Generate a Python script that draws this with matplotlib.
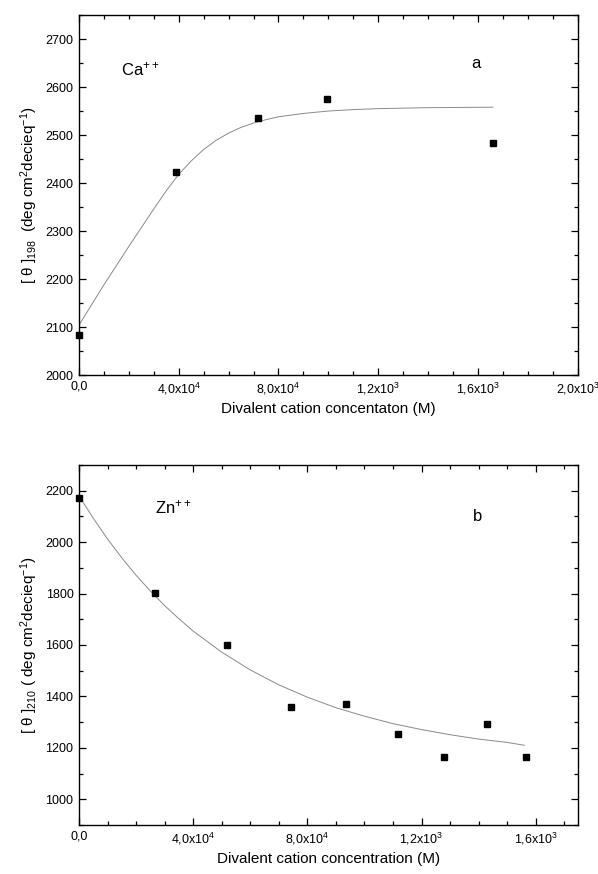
import matplotlib
matplotlib.use("Agg")
import matplotlib.pyplot as plt
from matplotlib.ticker import MultipleLocator, FixedLocator, FixedFormatter

plt.rcParams['font.family'] = ['Liberation Sans', 'DejaVu Sans']
plt.rcParams['mathtext.fontset'] = 'custom'
plt.rcParams['mathtext.rm'] = 'Liberation Sans'
plt.rcParams['mathtext.it'] = 'Liberation Sans:italic'
plt.rcParams['mathtext.bf'] = 'Liberation Sans:bold'

# ---- Panel a (Ca++) ----
ca_x = [0.0, 3.88e-4, 7.19e-4, 9.95e-4, 1.66e-3]
ca_y = [2083, 2422, 2535, 2576, 2483]
ca_fit_x = [0.0, 1e-4, 2e-4, 3e-4, 3.5e-4, 4e-4, 4.5e-4, 5e-4, 5.5e-4, 6e-4, 6.5e-4, 7e-4,
            7.5e-4, 8e-4, 9e-4, 1.0e-3, 1.1e-3, 1.2e-3, 1.4e-3, 1.66e-3]
ca_fit_y = [2104, 2188, 2268, 2346, 2384, 2418, 2446, 2470, 2489, 2504, 2516, 2525,
            2532, 2538, 2545, 2550, 2553, 2555, 2557, 2558]
a_xticks = [0.0, 4e-4, 8e-4, 1.2e-3, 1.6e-3, 2.0e-3]
a_xticklabels = ['0,0', '4,0x10$^{4}$', '8,0x10$^{4}$', '1,2x10$^{3}$', '1,6x10$^{3}$', '2,0x10$^{3}$']
a_yticks = [2000, 2100, 2200, 2300, 2400, 2500, 2600, 2700]

# ---- Panel b (Zn++) ----
zn_x = [0.0, 2.67e-4, 5.18e-4, 7.41e-4, 9.34e-4, 1.117e-3, 1.277e-3, 1.428e-3, 1.565e-3]
zn_y = [2172, 1803, 1601, 1357, 1370, 1253, 1165, 1294, 1165]
zn_fit_x = [0.0, 0.5e-4, 1e-4, 1.5e-4, 2e-4, 2.5e-4, 3e-4, 3.5e-4, 4e-4, 5e-4, 6e-4, 7e-4, 8e-4, 9e-4,
            1.0e-3, 1.1e-3, 1.2e-3, 1.3e-3, 1.4e-3, 1.5e-3, 1.56e-3]
zn_fit_y = [2180, 2093, 2012, 1939, 1871, 1810, 1753, 1702, 1654, 1572, 1503, 1445, 1397, 1356,
            1323, 1294, 1271, 1251, 1234, 1221, 1210]
b_xticks = [0.0, 4e-4, 8e-4, 1.2e-3, 1.6e-3]
b_xticklabels = ['0,0', '4,0x10$^{4}$', '8,0x10$^{4}$', '1,2x10$^{3}$', '1,6x10$^{3}$']
b_yticks = [1000, 1200, 1400, 1600, 1800, 2000, 2200]

fig = plt.figure(figsize=(5.98, 8.74), dpi=100)
ax1 = fig.add_axes([0.1321, 0.5709, 0.966 - 0.1321, 0.9828 - 0.5709])
ax2 = fig.add_axes([0.1321, 0.0561, 0.966 - 0.1321, 0.468 - 0.0561])

def style(ax):
    for s in ax.spines.values():
        s.set_linewidth(1.0)
    ax.tick_params(which='both', direction='in', top=True, right=True,
                   labelsize=9, width=0.9, pad=4)
    ax.tick_params(which='major', length=5)
    ax.tick_params(which='minor', length=3)

# Panel a
ax1.plot(ca_fit_x, ca_fit_y, color='#8a8a8a', lw=0.7)
ax1.plot(ca_x, ca_y, 's', color='black', ms=5, clip_on=False, zorder=5)
ax1.set_xlim(0, 2.0e-3)
ax1.set_ylim(2000, 2750)
ax1.xaxis.set_major_locator(FixedLocator(a_xticks))
ax1.xaxis.set_major_formatter(FixedFormatter(a_xticklabels))
ax1.xaxis.set_minor_locator(MultipleLocator(1e-4))
ax1.yaxis.set_major_locator(FixedLocator(a_yticks))
ax1.yaxis.set_minor_locator(MultipleLocator(50))
style(ax1)
ax1.set_xlabel('Divalent cation concentaton (M)', fontsize=11, labelpad=4)
ax1.set_ylabel('[ θ ]$_{\\mathregular{198}}$  (deg cm$^{2}$decieq$^{-1}$)', fontsize=11, labelpad=4)
ax1.text(1.68e-4, 2636, 'Ca$^{++}$', fontsize=12, ha='left', va='center')
ax1.text(1.59e-3, 2650, 'a', fontsize=12, ha='center', va='center')

# Panel b
ax2.plot(zn_fit_x, zn_fit_y, color='#8a8a8a', lw=0.7)
ax2.plot(zn_x, zn_y, 's', color='black', ms=5, clip_on=False, zorder=5)
ax2.set_xlim(0, 1.747e-3)
ax2.set_ylim(900, 2300)
ax2.xaxis.set_major_locator(FixedLocator(b_xticks))
ax2.xaxis.set_major_formatter(FixedFormatter(b_xticklabels))
ax2.xaxis.set_minor_locator(MultipleLocator(1e-4))
ax2.yaxis.set_major_locator(FixedLocator(b_yticks))
ax2.yaxis.set_minor_locator(MultipleLocator(100))
style(ax2)
ax2.set_xlabel('Divalent cation concentration (M)', fontsize=11, labelpad=4)
ax2.set_ylabel('[ θ ]$_{\\mathregular{210}}$ ( deg cm$^{2}$decieq$^{-1}$)', fontsize=11, labelpad=4)
ax2.text(2.66e-4, 2134, 'Zn$^{++}$', fontsize=12, ha='left', va='center')
ax2.text(1.397e-3, 2100, 'b', fontsize=12, ha='center', va='center')

fig.savefig('out.png', dpi=100)
